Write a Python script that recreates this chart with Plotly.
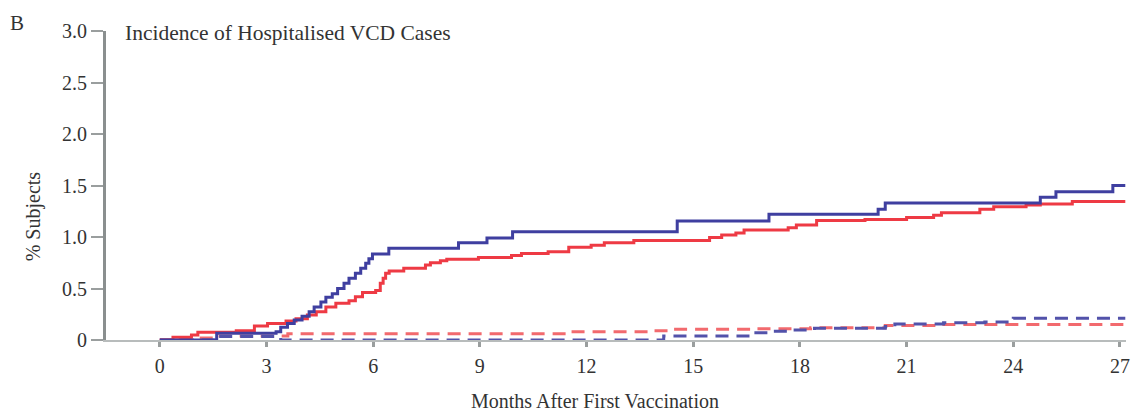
import plotly.graph_objects as go

# ---- data (months, % subjects) ----
blue_t = [0, 1.6, 3.27, 3.4, 3.59, 3.78, 4.0, 4.2, 4.34, 4.53, 4.67, 4.85, 5.0, 5.18, 5.32, 5.5,
          5.65, 5.79, 5.88, 5.98, 6.44, 8.4, 9.2, 9.92, 14.55, 17.13, 20.2, 20.4, 24.76, 25.2, 26.8, 27.15]
blue_v = [0, 0.065, 0.08, 0.123, 0.16, 0.194, 0.23, 0.275, 0.32, 0.37, 0.414, 0.45, 0.50, 0.55, 0.60, 0.647,
          0.696, 0.745, 0.79, 0.835, 0.89, 0.945, 0.99, 1.05, 1.155, 1.22, 1.27, 1.33, 1.385, 1.44, 1.50, 1.50]

red_t = [0, 0.37, 0.89, 1.07, 2.15, 2.66, 3.03, 3.55, 3.83, 4.15, 4.4, 4.67, 4.95, 5.32, 5.5, 5.7, 6.07,
         6.2, 6.28, 6.35, 6.45, 6.86, 7.47, 7.61, 7.89, 8.07, 8.96, 9.89, 10.17, 10.92, 11.5, 12.13, 12.5,
         13.33, 15.46, 15.8, 16.2, 16.43, 17.67, 17.9, 18.47, 19.83, 21.0, 21.76, 21.98, 23.06, 23.45,
         24.36, 24.76, 25.66, 27.15]
red_v = [0, 0.026, 0.048, 0.075, 0.09, 0.136, 0.16, 0.184, 0.207, 0.243, 0.275, 0.32, 0.356, 0.38, 0.42, 0.46, 0.48,
         0.55, 0.60, 0.647, 0.67, 0.696, 0.728, 0.75, 0.77, 0.783, 0.80, 0.82, 0.84, 0.857, 0.90, 0.92, 0.945,
         0.967, 0.996, 1.02, 1.04, 1.068, 1.09, 1.117, 1.16, 1.17, 1.19, 1.21, 1.236, 1.27, 1.294,
         1.31, 1.32, 1.345, 1.345]

red_dash_t = [0, 0.5, 1.5, 3.6, 11.56, 13.77, 14.3, 16.77, 18.3, 20.4, 22.0, 27.15]
red_dash_v = [0, 0.02, 0.04, 0.06, 0.08, 0.09, 0.104, 0.11, 0.12, 0.14, 0.15, 0.15]

blue_dash_t = [0, 1.6, 3.4, 14.17, 16.66, 17.2, 17.7, 18.41, 20.4, 20.67, 22.04, 23.2, 24.0, 27.15]
blue_dash_v = [0, 0.035, 0, 0.04, 0.07, 0.085, 0.097, 0.113, 0.13, 0.155, 0.168, 0.175, 0.21, 0.21]

x_ticks = [0, 3, 6, 9, 12, 15, 18, 21, 24, 27]
y_ticks = [0, 0.5, 1.0, 1.5, 2.0, 2.5, 3.0]
y_tick_text = ["0", "0.5", "1.0", "1.5", "2.0", "2.5", "3.0"]

FONT = "Liberation Serif"
TXT = "#333333"
BLUE = "#3f3fa0"
RED = "#ee3a44"
RED_D = "#f26a6e"
BLUE_D = "#5252aa"

W, H = 1134, 413
ML, MR, MT, MB = 106, 4, 31, 73

fig = go.Figure()
fig.add_trace(go.Scatter(x=red_dash_t, y=red_dash_v, mode="lines", line_shape="hv",
                         line=dict(color=RED_D, width=3, dash="13px,8px"), cliponaxis=False))
fig.add_trace(go.Scatter(x=blue_dash_t, y=blue_dash_v, mode="lines", line_shape="hv",
                         line=dict(color=BLUE_D, width=3, dash="13px,8px"), cliponaxis=False))
fig.add_trace(go.Scatter(x=red_t, y=red_v, mode="lines", line_shape="hv",
                         line=dict(color=RED, width=3), cliponaxis=False))
fig.add_trace(go.Scatter(x=blue_t, y=blue_v, mode="lines", line_shape="hv",
                         line=dict(color=BLUE, width=3), cliponaxis=False))

pw = W - ML - MR
ph = H - MT - MB


def px_ann(text, x, y, size, xanchor="center", angle=0):
    return dict(text=text, x=(x - ML) / pw, y=((H - y) - MB) / ph, xref="paper", yref="paper",
                showarrow=False, xanchor=xanchor, yanchor="middle", textangle=angle,
                font=dict(family=FONT, size=size, color=TXT))


fig.update_layout(
    width=W, height=H,
    margin=dict(l=ML, r=MR, t=MT, b=MB),
    paper_bgcolor="white", plot_bgcolor="white",
    showlegend=False,
    font=dict(family=FONT, size=20, color=TXT),
    xaxis=dict(range=[-1.513, 27.17], tickvals=x_ticks, ticks="outside", ticklen=5, tickwidth=3,
               tickcolor="#9a9e9e", showline=True, linecolor="#b8bcbc", linewidth=2,
               showgrid=False, zeroline=False, ticklabelstandoff=2,
               tickfont=dict(family=FONT, size=20, color=TXT)),
    yaxis=dict(range=[0, 3.0], tickvals=y_ticks, ticktext=y_tick_text, ticks="outside", ticklen=12,
               tickwidth=2, tickcolor="#9a9e9e", showline=True, linecolor="#8a8f8f", linewidth=3,
               showgrid=False, zeroline=False,
               tickfont=dict(family=FONT, size=20, color=TXT)),
    annotations=[
        px_ann("Incidence of Hospitalised VCD Cases", 123, 33, 21.5, xanchor="left"),
        px_ann("B", 17, 23, 21),
        px_ann("% Subjects", 33, 216, 20, angle=-90),
        px_ann("Months After First Vaccination", 597, 401, 20),
    ],
)

fig.write_html("out.html", config={"displayModeBar": False},
               post_script="document.body.style.margin='0px';")
